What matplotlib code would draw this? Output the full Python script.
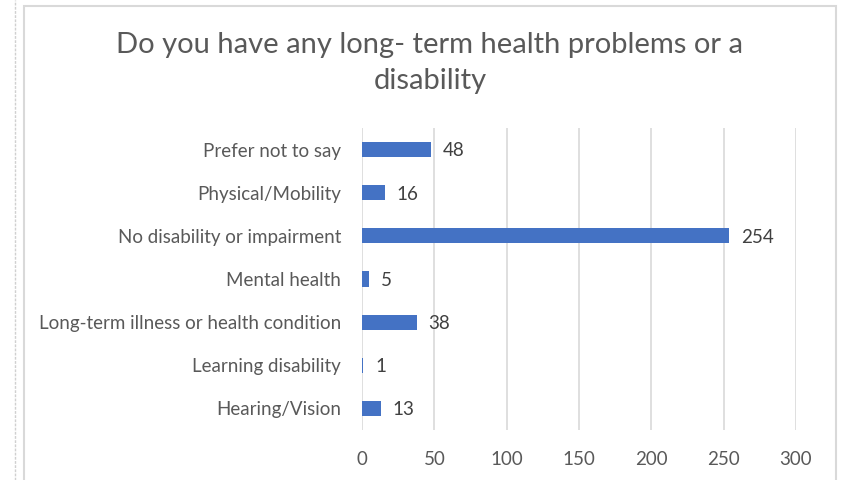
import matplotlib.pyplot as plt
from matplotlib.lines import Line2D
from matplotlib.patches import Rectangle

categories = ["Hearing/Vision", "Learning disability", "Long-term illness or health condition",
              "Mental health", "No disability or impairment", "Physical/Mobility", "Prefer not to say"]
counts = [13, 1, 38, 5, 254, 16, 48]
xticks = [0, 50, 100, 150, 200, 250, 300]

plt.rcParams['font.family'] = ['Lato', 'DejaVu Sans']
text_col = "#595959"

fig = plt.figure(figsize=(8.43, 4.8), dpi=100)
ax = fig.add_axes([362/843, 1-430/480, (796-362)/843, (430-128)/480])

bars = ax.barh(range(len(categories)), counts, height=0.35, color="#4472C4", zorder=3)
for i, v in enumerate(counts):
    ax.text(v + 8, i - 0.03, str(v), va="center", ha="left", fontsize=13.5, color="#404040")

ax.set_xlim(0, 300)
ax.set_ylim(-0.5, len(categories) - 0.5)
ax.set_xticks(xticks)
ax.set_yticks(range(len(categories)))
ax.set_yticklabels(categories)
ax.tick_params(axis='both', length=0, labelsize=13.5, labelcolor=text_col)
ax.tick_params(axis='y', pad=15)
ax.tick_params(axis='x', pad=15)
ax.grid(axis='x', color="#d9d9d9", linewidth=1.2, zorder=0)
for s in ax.spines.values():
    s.set_visible(False)

fig.text(430/843, 1-45/480, "Do you have any long- term health problems or a",
         ha="center", va="center", fontsize=21, color=text_col)
fig.text(430/843, 1-81/480, "disability", ha="center", va="center", fontsize=21, color=text_col)

# chart frame and the neighbouring panel edge
fig.add_artist(Rectangle((24/843, -0.05), (836-24)/843, (1.05 - 6/480), transform=fig.transFigure,
                         fill=False, edgecolor="#d9d9d9", linewidth=1.5))
fig.add_artist(Line2D([15/843, 15/843], [0, 1], transform=fig.transFigure,
                      color="#d0d0d0", linewidth=1, linestyle=(0, (2, 1))))

fig.savefig("out.png", dpi=100, facecolor="white")
